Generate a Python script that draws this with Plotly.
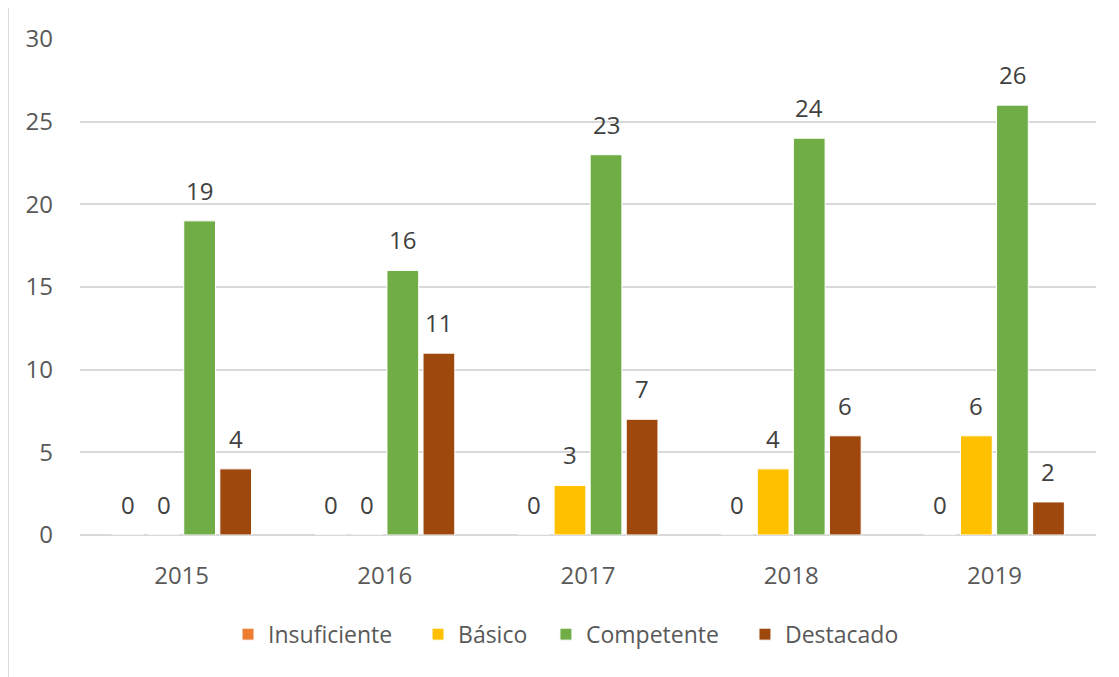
import plotly.graph_objects as go

years = ["2015", "2016", "2017", "2018", "2019"]
insuficiente = [0, 0, 0, 0, 0]
basico = [0, 0, 3, 4, 6]
competente = [19, 16, 23, 24, 26]
destacado = [4, 11, 7, 6, 2]

series = [
    ("Insuficiente", insuficiente, "#ED7D31"),
    ("Básico", basico, "#FFC000"),
    ("Competente", competente, "#70AD47"),
    ("Destacado", destacado, "#9E480E"),
]

FONT = "Open Sans"
legend_names = ["legend", "legend2", "legend3", "legend4"]
legend_x = [0.1457, 0.3327, 0.4586, 0.6545]
slot_px = 36

fig = go.Figure()
annotations = []
for i, (name, vals, col) in enumerate(series):
    fig.add_trace(go.Bar(
        name=name, x=years, y=vals,
        marker=dict(color=col, line=dict(color="white", width=1)),
        legend=legend_names[i],
    ))
    for j, v in enumerate(vals):
        annotations.append(dict(
            x=j, y=v, xref="x", yref="y", text=str(v), showarrow=False,
            xshift=(i - 1.5) * slot_px, yshift=12, yanchor="bottom",
            font=dict(size=24, color="#404040", family=FONT),
        ))

legend_common = dict(orientation="h", y=-0.2, yanchor="middle", xanchor="left",
                     font=dict(size=23, color="#595959", family=FONT),
                     bgcolor="rgba(0,0,0,0)")

fig.update_layout(
    width=1119, height=677,
    margin=dict(l=72, r=31, t=31, b=150),
    paper_bgcolor="white", plot_bgcolor="white",
    barmode="group", bargap=0.29, bargroupgap=0.12,
    font=dict(family=FONT, size=24, color="#595959"),
    showlegend=True,
    legend=dict(x=legend_x[0], **legend_common),
    legend2=dict(x=legend_x[1], **legend_common),
    legend3=dict(x=legend_x[2], **legend_common),
    legend4=dict(x=legend_x[3], **legend_common),
    xaxis=dict(type="category", range=[-0.5, 4.5],
               showgrid=False, showline=False, ticks="", ticklabelstandoff=24,
               tickfont=dict(size=24, color="#595959")),
    yaxis=dict(range=[0, 30], dtick=5, showgrid=True, gridcolor="#D9D9D9", gridwidth=2,
               zeroline=True, zerolinecolor="#D9D9D9", zerolinewidth=2,
               showline=False, ticks="", ticklabelstandoff=26,
               tickfont=dict(size=24, color="#595959")),
    annotations=annotations,
    shapes=[dict(type="rect", xref="paper", yref="paper",
                 x0=-0.0709, x1=1.05, y0=-0.33, y1=1.0685,
                 line=dict(color="#D9D9D9", width=2), layer="below")],
)

fig.write_html("out.html")
